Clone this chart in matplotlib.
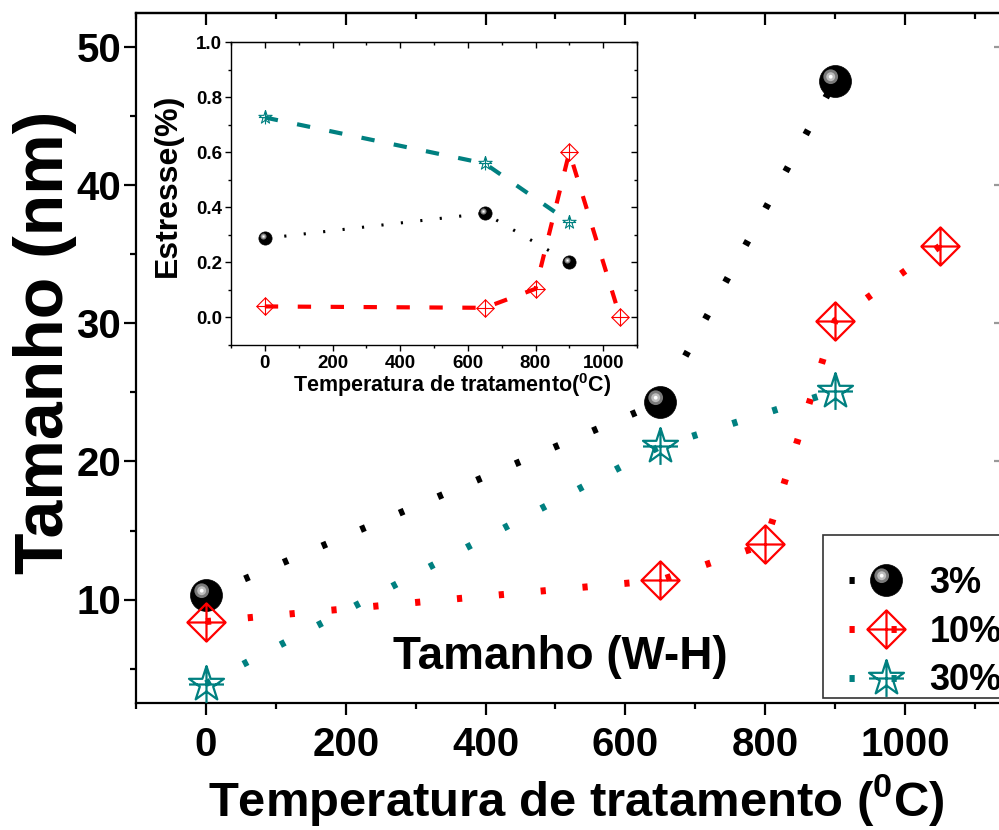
import numpy as np
import matplotlib
matplotlib.use('Agg')
import matplotlib.pyplot as plt
from matplotlib.path import Path
from matplotlib.patches import Rectangle
from matplotlib.legend_handler import HandlerTuple
from matplotlib.ticker import MultipleLocator

plt.rcParams['font.family'] = ['Liberation Sans', 'DejaVu Sans']
plt.rcParams['font.weight'] = 'bold'
plt.rcParams['mathtext.fontset'] = 'custom'
plt.rcParams['mathtext.rm'] = 'Liberation Sans:bold'
plt.rcParams['mathtext.bf'] = 'Liberation Sans:bold'
plt.rcParams['mathtext.it'] = 'Liberation Sans:bold'

# ---------------- data ----------------
temp_3 = [0, 650, 900]
size_3 = [10.3, 24.3, 47.6]
temp_10 = [0, 650, 800, 900, 1050]
size_10 = [8.4, 11.4, 14.0, 30.2, 35.6]
temp_30 = [0, 650, 900]
size_30 = [3.9, 21.1, 25.1]

stress_3 = [0.287, 0.378, 0.200]
stress_10 = [0.040, 0.035, 0.104, 0.600, 0.001]
stress_30 = [0.726, 0.559, 0.347]

labels = ['3%', '10%', '30%']
main_xticks = [0, 200, 400, 600, 800, 1000]
main_yticks = [10, 20, 30, 40, 50]
inset_xticks = [0, 200, 400, 600, 800, 1000]
inset_yticks = [0.0, 0.2, 0.4, 0.6, 0.8, 1.0]

RED = '#FF0000'
TEAL = '#008080'

# ---------------- marker paths ----------------
MV, LT, CP = Path.MOVETO, Path.LINETO, Path.CLOSEPOLY
frame = Path([(-1, -1), (1, 1)], [MV, MV])


def framed_circle(cx, cy, r):
    return Path.make_compound_path(frame, Path.circle((cx, cy), r))


diamond_cross = Path([(0, 1), (1, 0), (0, -1), (-1, 0), (0, 1),
                      (0, 1), (0, -1), (-1, 0), (1, 0)],
                     [MV, LT, LT, LT, CP, MV, LT, MV, LT])

ang_out = np.deg2rad(90 + 72 * np.arange(5))
ang_in = ang_out + np.deg2rad(36)
sv = []
for a, b in zip(ang_out, ang_in):
    sv.append((np.cos(a), np.sin(a)))
    sv.append((0.382 * np.cos(b), 0.382 * np.sin(b)))
star_verts = sv + [sv[0], (0, 1), (0, -1), (-0.95, 0), (0.95, 0)]
star_codes = [MV] + [LT] * 9 + [CP, MV, LT, MV, LT]
star_cross = Path(star_verts, star_codes)

hl1 = framed_circle(-0.3, 0.3, 0.46)
hl2 = framed_circle(-0.3, 0.3, 0.28)
hl3 = framed_circle(-0.3, 0.3, 0.12)

# ---------------- figure ----------------
W, H = 999, 830
fig = plt.figure(figsize=(W / 100, H / 100), dpi=100)

x0, x1 = -100, 1145
px_per_x = 0.699
ax = fig.add_axes([136 / W, (H - 703) / H, (x1 - x0) * px_per_x / W, 690 / H])
ax.set_xlim(x0, x1)
ax.set_ylim(2.5, 52.5)


def ball(a, x, y, ms, z):
    a.plot(x, y, ls='none', marker='o', ms=ms, mfc='black', mec='black', mew=0.5, zorder=z)
    a.plot(x, y, ls='none', marker=hl1, ms=ms, mfc='#7a7a7a', mec='none', zorder=z + 0.1)
    a.plot(x, y, ls='none', marker=hl2, ms=ms, mfc='#bdbdbd', mec='none', zorder=z + 0.2)
    a.plot(x, y, ls='none', marker=hl3, ms=ms, mfc='white', mec='none', zorder=z + 0.3)


main_dash = (0, (0.75, 5.3))
l3, = ax.plot(temp_3, size_3, color='black', lw=5, ls=main_dash, dash_capstyle='butt', zorder=2)
l10, = ax.plot(temp_10, size_10, color=RED, lw=5, ls=main_dash, dash_capstyle='butt', zorder=2)
l30, = ax.plot(temp_30, size_30, color=TEAL, lw=5, ls=main_dash, dash_capstyle='butt', zorder=2)

b0, = ax.plot(temp_3, size_3, ls='none', marker='o', ms=23, mfc='black', mec='black', mew=0.5, zorder=5)
b1, = ax.plot(temp_3, size_3, ls='none', marker=hl1, ms=23, mfc='#7a7a7a', mec='none', zorder=5.1)
b2, = ax.plot(temp_3, size_3, ls='none', marker=hl2, ms=23, mfc='#bdbdbd', mec='none', zorder=5.2)
b3, = ax.plot(temp_3, size_3, ls='none', marker=hl3, ms=23, mfc='white', mec='none', zorder=5.3)
d10, = ax.plot(temp_10, size_10, ls='none', marker=diamond_cross, ms=27.5, mfc='none', mec=RED, mew=1.6, zorder=5)
s30, = ax.plot(temp_30, size_30, ls='none', marker=star_cross, ms=26.5, mfc='none', mec=TEAL, mew=1.6, zorder=5)

ax.xaxis.set_major_locator(plt.FixedLocator(main_xticks))
ax.yaxis.set_major_locator(plt.FixedLocator(main_yticks))
ax.xaxis.set_minor_locator(MultipleLocator(100))
ax.yaxis.set_minor_locator(MultipleLocator(5))
for s in ax.spines.values():
    s.set_linewidth(1.6)
ax.tick_params(which='both', width=1.6, labelsize=29)
ax.tick_params(which='major', length=8.6)
ax.tick_params(which='minor', length=4.3)
ax.tick_params(axis='x', which='both', direction='out', top=False, pad=8)
ax.tick_params(axis='y', which='both', direction='out', right=False, pad=2)
# mirrored inward ticks on top / right
axt = ax.secondary_xaxis('top')
axt.xaxis.set_major_locator(plt.FixedLocator(main_xticks))
axt.xaxis.set_minor_locator(MultipleLocator(100))
axt.tick_params(which='both', direction='in', width=1.6, labeltop=False)
axt.tick_params(which='major', length=8.6)
axt.tick_params(which='minor', length=4.3)
axt.spines['top'].set_linewidth(1.6)
axr = ax.secondary_yaxis('right')
axr.yaxis.set_major_locator(plt.FixedLocator(main_yticks))
axr.yaxis.set_minor_locator(MultipleLocator(5))
axr.tick_params(which='both', direction='in', width=1.6, labelright=False, color='#999999')
axr.tick_params(which='major', length=8.6)
axr.tick_params(which='minor', length=4.3)
for lab in ax.get_xticklabels() + ax.get_yticklabels():
    lab.set_fontweight('bold')

fig.text(45 / W, 1 - 342 / H, 'Tamanho (nm)', rotation=90, ha='center', va='center',
         fontsize=49, fontweight='bold')
fig.text(576 / W, 1 - 800 / H, r'Temperatura de tratamento ($^{0}$C)', ha='center', va='center',
         fontsize=35.3, fontweight='bold')
fig.text(560 / W, 1 - 669 / H, 'Tamanho (W-H)', ha='center', va='baseline',
         fontsize=33, fontweight='bold')

# legend box (frame drawn separately; as in the reference it runs past the right edge)
ax.add_patch(Rectangle((823 / W, 1 - 698 / H), 190 / W, 163 / H, transform=fig.transFigure,
                       facecolor='white', edgecolor='#333333', lw=1.2, zorder=6, clip_on=False))
leg = ax.legend(handles=[(l3, b0, b1, b2, b3), (l10, d10), (l30, s30)], labels=labels,
                handler_map={tuple: HandlerTuple(ndivide=1, pad=0)},
                loc='upper left', bbox_to_anchor=(823 / W, 1 - 540 / H), bbox_transform=fig.transFigure,
                borderaxespad=0, borderpad=0.72, handlelength=2.05, handletextpad=0.18,
                labelspacing=0.38, numpoints=1, prop={'size': 26, 'weight': 'bold'},
                frameon=False)
leg.set_zorder(7)

# ---------------- inset ----------------
ai = fig.add_axes([231 / W, (H - 345) / H, 406 / W, 303 / H])
ai.set_xlim(-100, 1100)
ai.set_ylim(-0.1, 1.0)
ai.set_facecolor('white')

ai.plot(temp_3, stress_3, color='black', lw=2.2, ls=(0, (0.7, 5.7)), dash_capstyle='butt', zorder=2)
ai.plot(temp_10, stress_10, color=RED, lw=3, ls=(0, (3.2, 4.7)), dash_capstyle='butt', zorder=2)
ai.plot(temp_30, stress_30, color=TEAL, lw=3, ls=(0, (3.2, 4.7)), dash_capstyle='butt', zorder=2)
ball(ai, temp_3, stress_3, 9.5, 5)
ai.plot(temp_10, stress_10, ls='none', marker=diamond_cross, ms=12.5, mfc='none', mec=RED, mew=0.8, zorder=5)
ai.plot(temp_30, stress_30, ls='none', marker=star_cross, ms=10, mfc='none', mec=TEAL, mew=0.8, zorder=5)

ai.xaxis.set_major_locator(plt.FixedLocator(inset_xticks))
ai.yaxis.set_major_locator(plt.FixedLocator(inset_yticks))
ai.xaxis.set_minor_locator(MultipleLocator(100))
ai.yaxis.set_minor_locator(MultipleLocator(0.1))
ai.set_yticklabels([f'{v:.1f}' for v in inset_yticks])
for s in ai.spines.values():
    s.set_linewidth(1.0)
ai.tick_params(which='both', width=1.0, labelsize=13.5)
ai.tick_params(which='major', length=4.3)
ai.tick_params(which='minor', length=2.5)
ai.tick_params(axis='x', which='both', direction='out', pad=3)
ai.tick_params(axis='y', which='both', direction='out', pad=2)
ait = ai.secondary_xaxis('top')
ait.xaxis.set_major_locator(plt.FixedLocator(inset_xticks))
ait.xaxis.set_minor_locator(MultipleLocator(100))
ait.tick_params(which='both', direction='in', width=1.0, labeltop=False)
ait.tick_params(which='major', length=4.3)
ait.tick_params(which='minor', length=2.5)
air = ai.secondary_yaxis('right')
air.yaxis.set_major_locator(plt.FixedLocator(inset_yticks))
air.yaxis.set_minor_locator(MultipleLocator(0.1))
air.tick_params(which='both', direction='in', width=1.0, labelright=False)
air.tick_params(which='major', length=4.3)
air.tick_params(which='minor', length=2.5)
for lab in ai.get_xticklabels() + ai.get_yticklabels():
    lab.set_fontweight('bold')

ai.text(-0.155, 0.528, 'Estresse(%)', rotation=90, ha='center', va='center', transform=ai.transAxes,
        fontsize=23, fontweight='bold')
ai.text(0.544, -0.132, r'Temperatura de tratamento($^{0}$C)', ha='center', va='center',
        transform=ai.transAxes, fontsize=15.5, fontweight='bold')

fig.savefig('out.png', dpi=100)
